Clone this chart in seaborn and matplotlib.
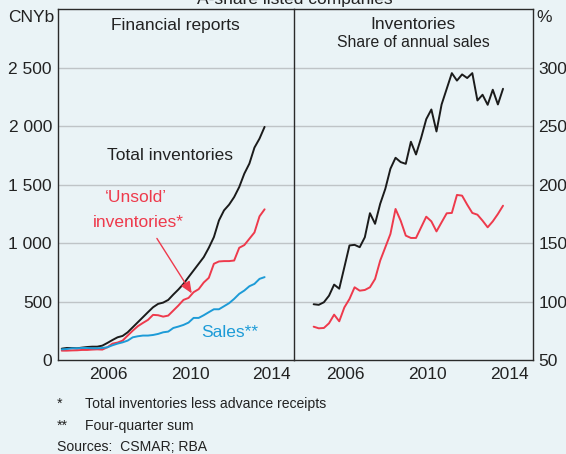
import numpy as np
import pandas as pd
import matplotlib
matplotlib.use("Agg")
import matplotlib.pyplot as plt
import seaborn as sns

# ---------------- data ----------------
quarters = pd.period_range("2004Q1", "2014Q1", freq="Q")
total_inventories = [97, 103, 103, 100, 106, 111, 114, 114, 123, 146, 171, 194, 206, 237,
                     280, 323, 366, 409, 451, 480, 491, 514, 560, 603, 651, 709, 766, 823,
                     880, 960, 1051, 1194, 1280, 1329, 1394, 1480, 1594, 1680, 1817, 1894, 1994]
unsold_inventories = [80, 80, 82, 83, 86, 86, 89, 91, 89, 109, 140, 149, 166, 209, 251, 289,
                      317, 343, 386, 383, 371, 380, 423, 466, 514, 531, 580, 606, 663, 703,
                      823, 843, 846, 846, 851, 960, 983, 1037, 1091, 1229, 1289]
sales = [91, 94, 100, 100, 103, 103, 100, 100, 103, 109, 126, 140, 151, 166, 194, 203, 209,
         209, 214, 223, 237, 243, 274, 286, 300, 320, 360, 360, 383, 409, 434, 434, 460, 486,
         523, 566, 594, 631, 651, 694, 709]
share_quarters = quarters[3:]
share_total = [97.7, 97.2, 99.4, 105, 114.5, 111, 129.4, 148, 148.5, 146.5, 155, 175.6, 166.5,
               183.6, 196.4, 213.6, 223, 219.3, 217.8, 236.7, 225.8, 240, 256, 264.3, 245.5,
               268.6, 282, 295.4, 289, 294.3, 291.2, 295.4, 272, 276.9, 268.3, 281.2, 268.6, 282]
share_unsold = [78.5, 77.1, 77.4, 81.4, 88.8, 83.1, 95, 102.2, 112.2, 109.3, 109.9, 112.2, 119.3,
                135, 146.4, 157.8, 179.2, 169.2, 156.4, 154.4, 154.4, 163.5, 172.6, 168.6, 160,
                167.8, 175.5, 175.8, 191.2, 190.6, 182.9, 175.8, 174.3, 169.2, 163.5, 168.6,
                174.9, 182]

left_yticks = [0, 500, 1000, 1500, 2000, 2500]
left_ylabels = ["0", "500", "1 000", "1 500", "2 000", "2 500"]
right_yticks = [50, 100, 150, 200, 250, 300]
right_ylabels = ["50", "100", "150", "200", "250", "300"]
year_labels = [2006, 2010, 2014]


def to_x(periods):
    return np.array([p.year + (p.quarter - 1) / 4 + 0.18 for p in periods])


left_df = pd.DataFrame({
    "x": np.tile(to_x(quarters), 3),
    "value": total_inventories + unsold_inventories + sales,
    "series": ["Total"] * len(quarters) + ["Unsold"] * len(quarters) + ["Sales"] * len(quarters),
})
right_df = pd.DataFrame({
    "x": np.tile(to_x(share_quarters), 2),
    "value": share_total + share_unsold,
    "series": ["Total"] * len(share_quarters) + ["Unsold"] * len(share_quarters),
})

# ---------------- style ----------------
BG = "#EAF3F6"
BLACK = "#1b1b1b"
RED = "#EE3A4C"
BLUE = "#1D9BD7"
GRID = "#BFC4C7"
TXT = "#222222"
SPINE = "#2a2a2a"
palette = {"Total": BLACK, "Unsold": RED, "Sales": BLUE}

sns.set_style("white")
plt.rcParams["font.family"] = ["Liberation Sans", "DejaVu Sans"]
plt.rcParams["text.color"] = TXT

W, H = 566, 454
fig = plt.figure(figsize=(W / 100, H / 100), dpi=100, facecolor=BG)

x_left, x_mid, x_right = 57.5, 294.0, 532.7
y_top, y_bot = 9.3, 360.0


def px_axes(x0, x1):
    return fig.add_axes([x0 / W, 1 - y_bot / H, (x1 - x0) / W, (y_bot - y_top) / H])


axL = px_axes(x_left, x_mid)
axR = px_axes(x_mid, x_right)

sns.lineplot(data=left_df, x="x", y="value", hue="series", palette=palette,
             estimator=None, linewidth=1.4, legend=False, ax=axL)
sns.lineplot(data=right_df, x="x", y="value", hue="series", palette=palette,
             estimator=None, linewidth=1.4, legend=False, ax=axR)

xlim = (2003.97, 2015.63)
for ax in (axL, axR):
    ax.set_facecolor(BG)
    ax.set_xlim(*xlim)
    ax.set_xlabel("")
    ax.set_ylabel("")
    ax.set_xticks(np.arange(2005, 2016))
    ax.set_xticklabels([])
    ax.set_xticks([y + 0.5 for y in year_labels], minor=True)
    ax.set_xticklabels([str(y) for y in year_labels], minor=True)
    ax.tick_params(axis="x", which="major", direction="in", length=4.5, width=0.9,
                   color=SPINE)
    ax.tick_params(axis="x", which="minor", length=0, pad=5, labelsize=12.5, labelcolor=TXT)
    for s in ax.spines.values():
        s.set_visible(True)
        s.set_color(SPINE)
        s.set_linewidth(1.0)
        s.set_zorder(5)
    ax.set_axisbelow(True)

axL.set_ylim(0, 3000)
axL.set_yticks(left_yticks)
axL.set_yticklabels(left_ylabels)
axL.tick_params(axis="y", length=0, pad=4, labelsize=12.5, labelcolor=TXT)
for v in left_yticks[1:]:
    axL.axhline(v, color=GRID, lw=1.0, zorder=0)
axL.spines["right"].set_visible(False)

axR.set_ylim(50, 350)
axR.yaxis.tick_right()
axR.set_yticks(right_yticks)
axR.set_yticklabels(right_ylabels)
axR.tick_params(axis="y", length=0, pad=4, labelsize=12.5, labelcolor=TXT)
for v in right_yticks[1:]:
    axR.axhline(v, color=GRID, lw=1.0, zorder=0)

# ---------------- texts ----------------
fig.text(295 / W, 1 - (-1) / H, "A-share listed companies", ha="center", va="center",
         fontsize=12.5)
fig.text(54 / W, 1 - 17.5 / H, "CNYb", ha="right", va="center", fontsize=12.5)
fig.text(536.5 / W, 1 - 17.5 / H, "%", ha="left", va="center", fontsize=12.5)

axL.text(0.5, 1 - (25.5 - y_top) / (y_bot - y_top), "Financial reports",
         transform=axL.transAxes, ha="center", va="center", fontsize=12.5)
axR.text(0.5, 1 - (25.0 - y_top) / (y_bot - y_top), "Inventories",
         transform=axR.transAxes, ha="center", va="center", fontsize=12.5)
axR.text(0.5, 1 - (42.5 - y_top) / (y_bot - y_top), "Share of annual sales",
         transform=axR.transAxes, ha="center", va="center", fontsize=11.3)

axL.text(2009.54, 1752, "Total inventories", ha="center", va="center", fontsize=12.5,
         color=TXT)
axL.text(2007.82, 1393, "\u2018Unsold\u2019", ha="center", va="center", fontsize=12.5, color=RED)
axL.text(2007.94, 1180, "inventories*", ha="center", va="center", fontsize=12.5, color=RED)
axL.text(2012.45, 231, "Sales**", ha="center", va="center", fontsize=12.5, color=BLUE)
axL.annotate("", xy=(2010.59, 570), xytext=(2008.87, 1040),
             arrowprops=dict(arrowstyle="-|>,head_length=0.7,head_width=0.3",
                             color=RED, lw=1.0, shrinkA=0, shrinkB=0))

fig.text(57 / W, 1 - 404 / H, "*", ha="left", va="center", fontsize=10.1)
fig.text(85 / W, 1 - 404 / H, "Total inventories less advance receipts", ha="left",
         va="center", fontsize=10.1)
fig.text(57 / W, 1 - 426 / H, "**", ha="left", va="center", fontsize=10.1)
fig.text(85 / W, 1 - 426 / H, "Four-quarter sum", ha="left", va="center", fontsize=10.1)
fig.text(57 / W, 1 - 447 / H, "Sources:  CSMAR; RBA", ha="left", va="center", fontsize=10.1)

fig.savefig("out.png", dpi=100, facecolor=BG)
